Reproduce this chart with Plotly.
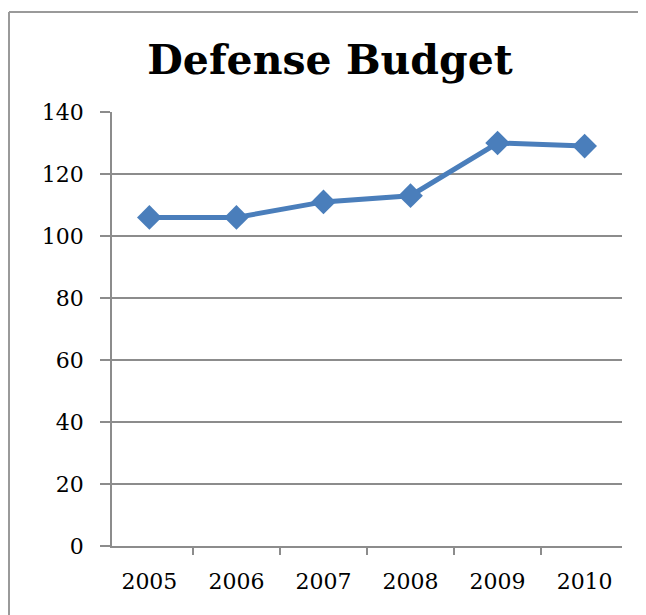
import plotly.graph_objects as go

years = ["2005", "2006", "2007", "2008", "2009", "2010"]
budget = [106, 106, 111, 113, 130, 129]
y_ticks = [0, 20, 40, 60, 80, 100, 120, 140]

# page body has an 8px margin; work in figure coordinates
OFF = 8
W, H = 646 - OFF, 615 - OFF
L, T = 112 - OFF, 112 - OFF
pw, ph = 510, 434
R, B = W - L - pw, H - T - ph

def px_x(p):  # p in window pixels
    return (p - OFF - L) / pw

def px_y(p):
    return (T + ph - (p - OFF)) / ph

fig = go.Figure()
fig.add_trace(go.Scatter(
    x=years, y=budget, mode="lines+markers",
    line=dict(color="#4a7ebb", width=5),
    marker=dict(symbol="diamond", size=19, color="#4a7ebb"),
    showlegend=False, hoverinfo="x+y",
))

grid = "#8c8c8c"
fig.update_layout(
    width=W, height=H,
    margin=dict(l=L, r=R, t=T, b=B),
    paper_bgcolor="white", plot_bgcolor="white",
    title=dict(text="<b>Defense Budget</b>", x=(330 - OFF) / W, xref="container", xanchor="center",
               y=1 - (60 - OFF) / H, yref="container", yanchor="middle",
               font=dict(family="DejaVu Serif", size=41, color="black")),
    font=dict(family="DejaVu Serif", size=22, color="black"),
    xaxis=dict(type="category", showgrid=False, showline=True, linecolor=grid, linewidth=1.5,
               ticks="outside", tickson="boundaries", ticklen=7, tickcolor=grid, tickwidth=1.5,
               ticklabelstandoff=15, tickfont=dict(size=22), fixedrange=True),
    yaxis=dict(range=[0, 140], tickvals=y_ticks, showgrid=True, gridcolor=grid, gridwidth=1.5,
               showline=True, linecolor=grid, linewidth=1.5, zeroline=False,
               ticks="outside", ticklen=10, tickcolor=grid, tickwidth=1.5,
               ticklabelstandoff=12, tickfont=dict(size=22), fixedrange=True),
    shapes=[
        dict(type="line", xref="paper", yref="paper", x0=px_x(9), x1=px_x(700), y0=px_y(12), y1=px_y(12),
             line=dict(color="#9a9a9a", width=2)),
        dict(type="line", xref="paper", yref="paper", x0=px_x(9), x1=px_x(9), y0=px_y(12), y1=px_y(700),
             line=dict(color="#9a9a9a", width=2)),
    ],
)

fig.write_html("out.html")
